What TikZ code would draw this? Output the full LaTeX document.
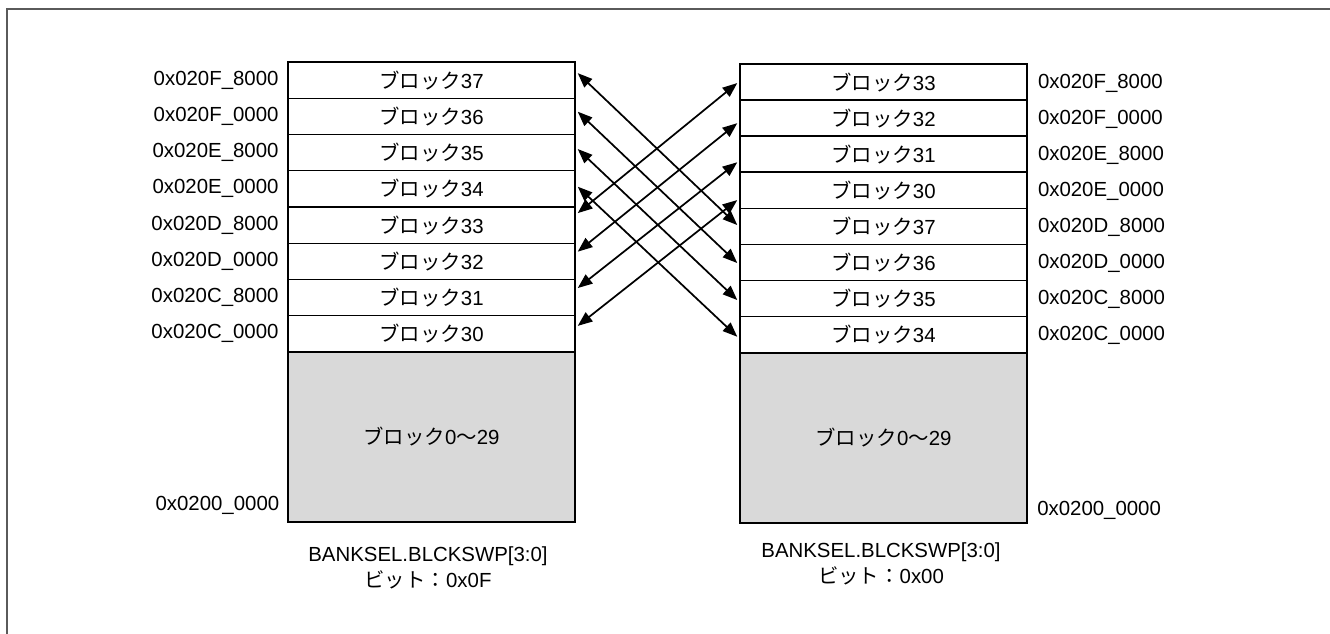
\documentclass[tikz,border=0pt]{standalone}
\usepackage{fontspec}
\setmainfont{Liberation Sans}
\newfontfamily\jp{Noto Sans CJK JP}
\usetikzlibrary{calc,arrows.meta}
\definecolor{framegray}{HTML}{5A5A5A}
\definecolor{blockgray}{HTML}{D9D9D9}
\tikzset{
  rowbox/.style={draw, line width=1.1pt, fill=white, minimum width=215.25pt, minimum height=27.19pt, inner sep=0pt, font=\fontsize{15.3}{18}\selectfont},
  graybox/.style={draw, line width=1.1pt, fill=blockgray, minimum width=215.25pt, minimum height=127.5pt, inner sep=0pt, font=\fontsize{15.3}{18}\selectfont},
  hexlbl/.style={inner sep=0pt, font=\fontsize{15.3}{18}\selectfont},
  botlbl/.style={inner sep=0pt, align=center, font=\fontsize{15.3}{18}\selectfont},
  arr/.style={line width=1.3pt, {Triangle[length=11pt,width=8.5pt]}-{Triangle[length=11pt,width=8.5pt]}}
}
\begin{document}
\begin{tikzpicture}[x=0.75pt,y=-0.75pt]
\clip (0,0) rectangle (1330,633);
\fill[white] (0,0) rectangle (1330,633);
% frame
\draw[framegray, line width=1.5pt] (7,645) -- (7,9) -- (1345,9);

% left column
\foreach \i/\t in {0/37,1/36,2/35,3/34,4/33,5/32,6/31,7/30}
  \node[rowbox] (L\i) at (431.5,{80.125+36.25*\i}) {{\jp ブロック}\t};
\node[graybox] (LG) at (431.5,437) {{\jp ブロック}0{\jp ～}29};

% right column
\foreach \i/\t in {0/33,1/32,2/31,3/30,4/37,5/36,6/35,7/34}
  \node[rowbox] (R\i) at (883.5,{82.05+36.1*\i}) {{\jp ブロック}\t};
\node[graybox] (RG) at (883.5,438) {{\jp ブロック}0{\jp ～}29};

% left address labels
\foreach \i/\a in {0/0x020F\_8000,1/0x020F\_0000,2/0x020E\_8000,3/0x020E\_0000,4/0x020D\_8000,5/0x020D\_0000,6/0x020C\_8000,7/0x020C\_0000}
  \node[hexlbl, anchor=east] (LA\i) at ($(L\i.west)+(-8.5,0)$) {\a};
\node[hexlbl, anchor=east] (LAB) at (279.5,505) {0x0200\_0000};

% right address labels
\foreach \i/\a in {0/0x020F\_8000,1/0x020F\_0000,2/0x020E\_8000,3/0x020E\_0000,4/0x020D\_8000,5/0x020D\_0000,6/0x020C\_8000,7/0x020C\_0000}
  \node[hexlbl, anchor=west] (RA\i) at ($(R\i.east)+(10,1)$) {\a};
\node[hexlbl, anchor=west] (RAB) at (1037,510) {0x0200\_0000};

% bottom labels
\node[botlbl] (LB) at (428,568) {BANKSEL.BLCKSWP[3:0]\\[2pt]{\jp ビット：}0x0F};
\node[botlbl] (RB) at (881,564) {BANKSEL.BLCKSWP[3:0]\\[2pt]{\jp ビット：}0x00};

% swap arrows
\draw[arr] ($(L0.east)+(2,-7)$)   -- ($(R4.west)+(-2,-1.4)$);
\draw[arr] ($(L1.east)+(2,-4.7)$) -- ($(R5.west)+(-2,0.5)$);
\draw[arr] ($(L2.east)+(2,-3.6)$) -- ($(R6.west)+(-2,1.4)$);
\draw[arr] ($(L3.east)+(2,-2.2)$) -- ($(R7.west)+(-2,2)$);
\draw[arr] ($(L4.east)+(2,-12)$)  -- ($(R0.west)+(-2,1)$);
\draw[arr] ($(L5.east)+(2,-9.7)$) -- ($(R1.west)+(-2,5)$);
\draw[arr] ($(L6.east)+(2,-9.6)$) -- ($(R2.west)+(-2,8)$);
\draw[arr] ($(L7.east)+(2,-8)$)   -- ($(R3.west)+(-2,9.7)$);
\end{tikzpicture}
\end{document}
